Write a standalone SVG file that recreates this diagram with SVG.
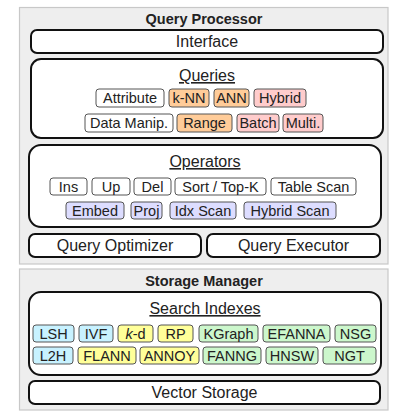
<svg xmlns="http://www.w3.org/2000/svg" width="413" height="418" viewBox="0 0 413 418">
<style>
text{font-family:"Liberation Sans",Arial,sans-serif;fill:#222;text-anchor:middle}
.panel{fill:#eeeeee;stroke:#c8c8c8;stroke-width:1.2}
.ttl{font-weight:bold;font-size:14.5px}
.box{fill:#fff;stroke:#111;stroke-width:2}
.big{font-size:16px}
.u{text-decoration:underline}
.chip{stroke:#555;stroke-width:1}
.ct{font-size:14.5px}
.w{fill:#fff}.o{fill:#ffcc99}.p{fill:#ffcccc}.l{fill:#ddddff}.c{fill:#c8f2ff}.y{fill:#ffff99}.g{fill:#ccf7cc}
</style>
<g id="query-processor">
<rect class="panel" x="19.5" y="7.5" width="368.5" height="256.5"/>
<text class="ttl" x="204" y="24">Query Processor</text>
</g>
<g id="interface"><rect class="box" x="31" y="30" width="352" height="23" rx="6"/><text class="big" x="207" y="47">Interface</text></g>
<g id="queries">
<rect class="box" x="31" y="59" width="352" height="79" rx="10"/>
<text class="big u" x="207" y="81">Queries</text>
<g id="q-attribute"><rect class="chip w" x="96" y="89" width="68" height="18" rx="3"/><text class="ct" x="130" y="103">Attribute</text></g>
<g id="q-knn"><rect class="chip o" x="169" y="89" width="40" height="18" rx="3"/><text class="ct" x="189" y="103">k-NN</text></g>
<g id="q-ann"><rect class="chip o" x="214" y="89" width="35" height="18" rx="3"/><text class="ct" x="231.5" y="103">ANN</text></g>
<g id="q-hybrid"><rect class="chip p" x="254" y="89" width="52" height="18" rx="3"/><text class="ct" x="280" y="103">Hybrid</text></g>
<g id="q-datamanip"><rect class="chip w" x="85" y="114" width="88" height="18" rx="3"/><text class="ct" x="129" y="128">Data Manip.</text></g>
<g id="q-range"><rect class="chip o" x="177" y="114" width="55" height="18" rx="3"/><text class="ct" x="204.5" y="128">Range</text></g>
<g id="q-batch"><rect class="chip p" x="237" y="114" width="42" height="18" rx="3"/><text class="ct" x="258" y="128">Batch</text></g>
<g id="q-multi"><rect class="chip p" x="283" y="114" width="40" height="18" rx="3"/><text class="ct" x="303" y="128">Multi.</text></g>
</g>
<g id="operators">
<rect class="box" x="29" y="145" width="352" height="82" rx="12"/>
<text class="big u" x="205" y="167">Operators</text>
<g id="op-ins"><rect class="chip w" x="50" y="178" width="37" height="17" rx="3"/><text class="ct" x="68.5" y="191.5">Ins</text></g>
<g id="op-up"><rect class="chip w" x="92" y="178" width="38" height="17" rx="3"/><text class="ct" x="111" y="191.5">Up</text></g>
<g id="op-del"><rect class="chip w" x="134" y="178" width="37" height="17" rx="3"/><text class="ct" x="152.5" y="191.5">Del</text></g>
<g id="op-sort"><rect class="chip w" x="175" y="178" width="91" height="17" rx="3"/><text class="ct" x="220.5" y="191.5">Sort / Top-K</text></g>
<g id="op-table"><rect class="chip w" x="271" y="178" width="85" height="17" rx="3"/><text class="ct" x="313.5" y="191.5">Table Scan</text></g>
<g id="op-embed"><rect class="chip l" x="66" y="202" width="58" height="17" rx="3"/><text class="ct" x="95" y="215.5">Embed</text></g>
<g id="op-proj"><rect class="chip l" x="131" y="202" width="31" height="17" rx="3"/><text class="ct" x="146.5" y="215.5">Proj</text></g>
<g id="op-idx"><rect class="chip l" x="170" y="202" width="66" height="17" rx="3"/><text class="ct" x="203" y="215.5">Idx Scan</text></g>
<g id="op-hybrid"><rect class="chip l" x="244" y="202" width="92" height="17" rx="3"/><text class="ct" x="290" y="215.5">Hybrid Scan</text></g>
</g>
<g id="optimizer"><rect class="box" x="29" y="234" width="172" height="23" rx="6"/><text class="big" x="115" y="251">Query Optimizer</text></g>
<g id="executor"><rect class="box" x="207" y="234" width="173" height="23" rx="6"/><text class="big" x="293.5" y="251">Query Executor</text></g>
<g id="storage-manager">
<rect class="panel" x="19.5" y="269" width="368.5" height="141"/>
<text class="ttl" x="204" y="286">Storage Manager</text>
</g>
<g id="search-indexes">
<rect class="box" x="29" y="292" width="352" height="83" rx="12"/>
<text class="big u" x="205" y="314">Search Indexes</text>
<g id="i-lsh"><rect class="chip c" x="33" y="325" width="41" height="17" rx="3"/><text class="ct" x="53.5" y="338.5">LSH</text></g>
<g id="i-ivf"><rect class="chip c" x="79" y="325" width="34" height="17" rx="3"/><text class="ct" x="96" y="338.5">IVF</text></g>
<g id="i-kd"><rect class="chip y" x="118" y="325" width="35" height="17" rx="3"/><text class="ct" x="135.5" y="338.5"><tspan font-style="italic">k</tspan>-d</text></g>
<g id="i-rp"><rect class="chip y" x="158" y="325" width="35" height="17" rx="3"/><text class="ct" x="175.5" y="338.5">RP</text></g>
<g id="i-kgraph"><rect class="chip g" x="199" y="325" width="59" height="17" rx="3"/><text class="ct" x="228.5" y="338.5">KGraph</text></g>
<g id="i-efanna"><rect class="chip g" x="263" y="325" width="67" height="17" rx="3"/><text class="ct" x="296.5" y="338.5">EFANNA</text></g>
<g id="i-nsg"><rect class="chip g" x="335" y="325" width="41" height="17" rx="3"/><text class="ct" x="355.5" y="338.5">NSG</text></g>
<g id="i-l2h"><rect class="chip c" x="33" y="347" width="40" height="17" rx="3"/><text class="ct" x="53" y="360.5">L2H</text></g>
<g id="i-flann"><rect class="chip y" x="78" y="347" width="58" height="17" rx="3"/><text class="ct" x="107" y="360.5">FLANN</text></g>
<g id="i-annoy"><rect class="chip y" x="140" y="347" width="59" height="17" rx="3"/><text class="ct" x="169.5" y="360.5">ANNOY</text></g>
<g id="i-fanng"><rect class="chip g" x="203" y="347" width="58" height="17" rx="3"/><text class="ct" x="232" y="360.5">FANNG</text></g>
<g id="i-hnsw"><rect class="chip g" x="266" y="347" width="52" height="17" rx="3"/><text class="ct" x="292" y="360.5">HNSW</text></g>
<g id="i-ngt"><rect class="chip g" x="323" y="347" width="53" height="17" rx="3"/><text class="ct" x="349.5" y="360.5">NGT</text></g>
</g>
<g id="vector-storage"><rect class="box" x="29" y="381" width="351" height="23" rx="6"/><text class="big" x="204.5" y="398">Vector Storage</text></g>
<g id="connectors"/>
</svg>
